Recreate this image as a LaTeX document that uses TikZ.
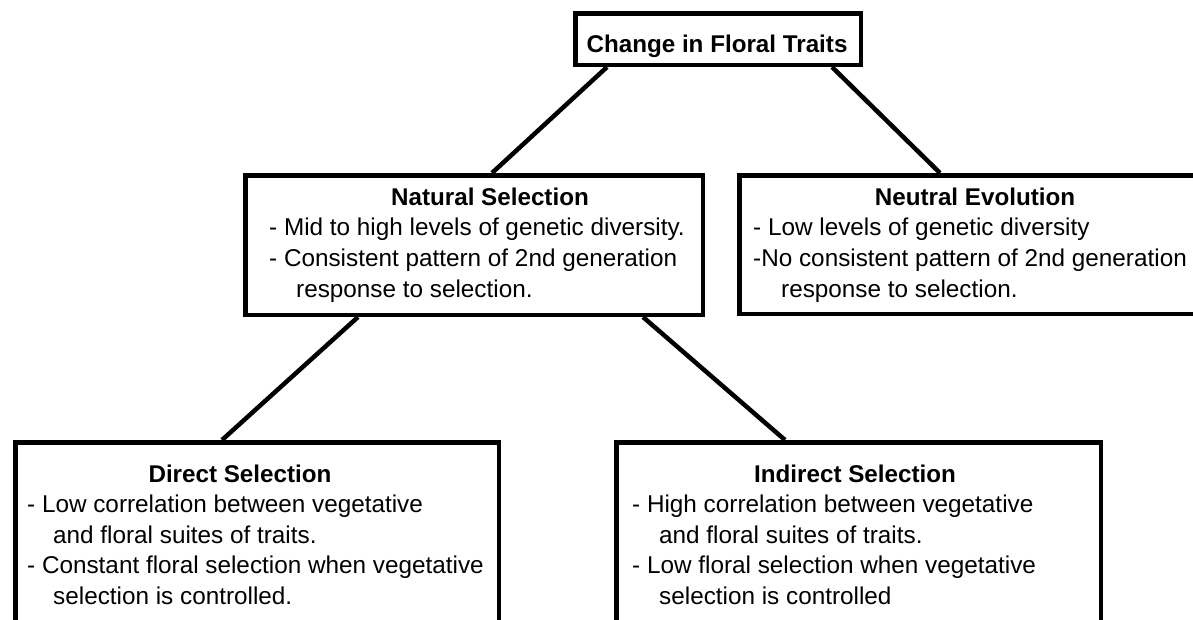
\documentclass[tikz,border=0pt]{standalone}
\usepackage{fontspec}
\setmainfont{Liberation Sans}
\tikzset{
  box/.style={draw=black, line width=4.5pt, fill=white, anchor=north west, inner sep=0pt, rectangle},
  conn/.style={draw=black, line width=4.5pt},
  ttl/.style={anchor=base, inner sep=0pt, font=\fontsize{24.2}{30}\selectfont\bfseries},
  txt/.style={anchor=base west, inner sep=0pt, font=\fontsize{24.3}{30}\selectfont},
}
\begin{document}
\begin{tikzpicture}[x=1pt, y=-1pt]
\useasboundingbox (0,0) rectangle (1193,619);
\clip (0,0) rectangle (1193,619);
\fill[white] (0,0) rectangle (1193,619);
% boxes
\node[box, minimum width=285.5pt, minimum height=51.5pt] (top) at (573,11) {};
\node[box, minimum width=457.5pt, minimum height=139.5pt] (ns) at (243,173) {};
\node[box, minimum width=474pt, minimum height=138.5pt] (ne) at (737,173) {};
\node[box, minimum width=483.5pt, minimum height=200pt] (ds) at (13,440) {};
\node[box, minimum width=484.5pt, minimum height=200pt] (is) at (614,440) {};
% connectors
\draw[conn] (top.south -| 607,0) -- (ns.north -| 492,0);
\draw[conn] (top.south -| 832,0) -- (ne.north -| 940,0);
\draw[conn] (ns.south -| 358,0) -- (ds.north -| 222,0);
\draw[conn] (ns.south -| 643,0) -- (is.north -| 785,0);
% texts
\node[ttl] (topt) at (717,52) {Change in Floral Traits};

\node[ttl] (nst) at (490,205) {Natural Selection};
\node[txt] (ns1) at (269,235) {- Mid to high levels of genetic diversity.};
\node[txt] (ns2) at (269,266) {- Consistent pattern of 2nd generation};
\node[txt] (ns3) at (296,297) {response to selection.};

\node[ttl] (net) at (975,205) {Neutral Evolution};
\node[txt] (ne1) at (753,235) {- Low levels of genetic diversity};
\node[txt] (ne2) at (753,266) {-No consistent pattern of 2nd generation};
\node[txt] (ne3) at (781,297) {response to selection.};

\node[ttl] (dst) at (240,482) {Direct Selection};
\node[txt] (ds1) at (27,512) {- Low correlation between vegetative};
\node[txt] (ds2) at (53,543) {and floral suites of traits.};
\node[txt] (ds3) at (27,573) {- Constant floral selection when vegetative};
\node[txt] (ds4) at (53,604) {selection is controlled.};

\node[ttl] (ist) at (855,482) {Indirect Selection};
\node[txt] (is1) at (632,512) {- High correlation between vegetative};
\node[txt] (is2) at (659,543) {and floral suites of traits.};
\node[txt] (is3) at (632,573) {- Low floral selection when vegetative};
\node[txt] (is4) at (659,604) {selection is controlled};
\end{tikzpicture}
\end{document}
